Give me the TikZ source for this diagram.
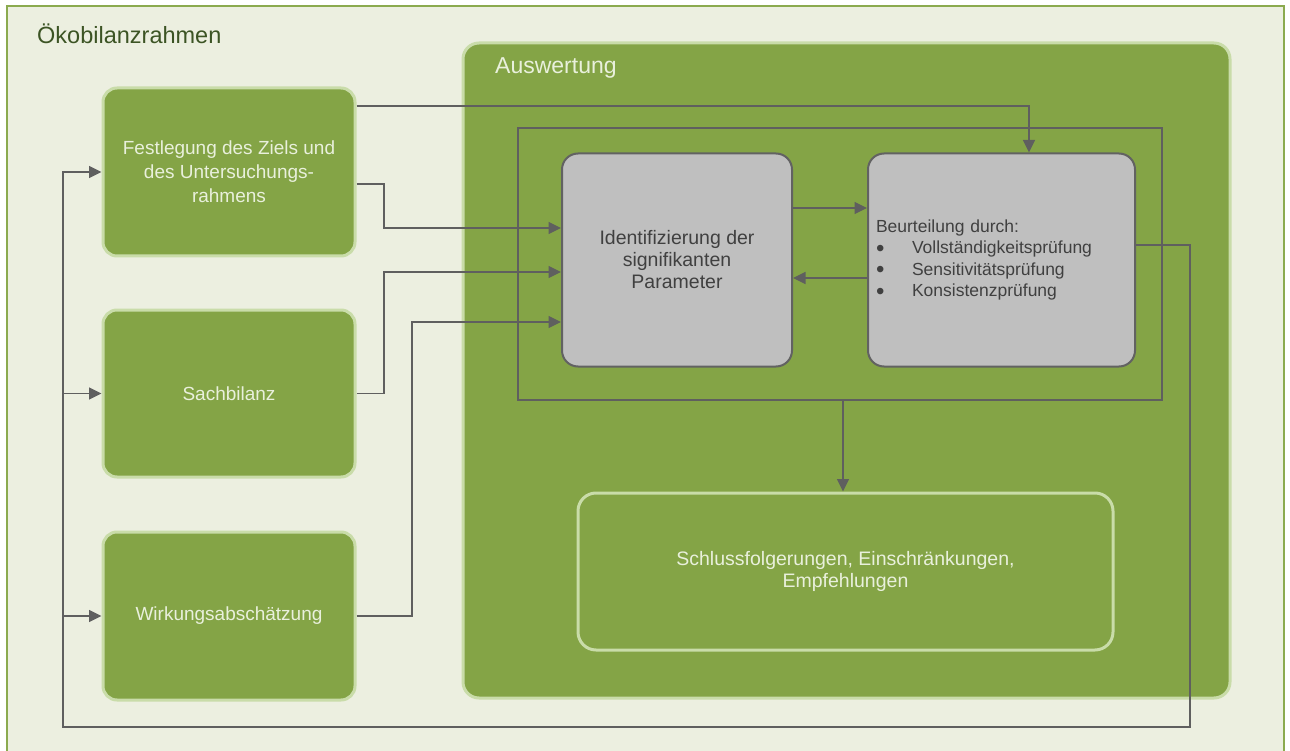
\documentclass[tikz,border=0pt]{standalone}
\usepackage{fontspec}
\setmainfont{Liberation Sans}
\usetikzlibrary{arrows.meta,calc}
\definecolor{bgc}{HTML}{ECEFE0}
\definecolor{framec}{HTML}{8BAA4F}
\definecolor{greenc}{HTML}{84A446}
\definecolor{lightg}{HTML}{C9DCA9}
\definecolor{greyc}{HTML}{BFBFBF}
\definecolor{greyb}{HTML}{626262}
\definecolor{linec}{HTML}{5F5F5F}
\definecolor{txtlight}{HTML}{E9F0DC}
\definecolor{txtdark}{HTML}{3C5424}
\definecolor{txtgrey}{HTML}{404040}
\newcommand{\bigbul}{\makebox[36pt][l]{\raisebox{-2.5pt}{\fontsize{24}{0}\selectfont •}}}
\tikzset{
  greenbox/.style={draw=lightg, line width=3pt, fill=greenc, rounded corners=14pt,
    minimum width=252pt, minimum height=168pt, text=txtlight, align=center,
    font=\fontsize{19}{24}\selectfont},
  auswbox/.style={draw=lightg, line width=3pt, fill=greenc, rounded corners=16pt,
    minimum width=767pt, minimum height=655pt},
  greybox/.style={draw=greyb, line width=2pt, fill=greyc, rounded corners=16pt,
    minimum height=213pt, text=txtgrey},
  schlussbox/.style={draw=lightg, line width=3pt, fill=greenc, rounded corners=18pt,
    minimum width=535pt, minimum height=157pt, text=txtlight, align=center,
    font=\fontsize{19.5}{22.5}\selectfont},
  conn/.style={draw=linec, line width=1.3pt},
  arr/.style={conn, -{Triangle[length=12.5pt,width=12pt]}},
}
\begin{document}
\begin{tikzpicture}[x=1pt,y=-1pt]
\useasboundingbox (0,0) rectangle (1290,751);
\clip (0,0) rectangle (1290,751);
\fill[white] (0,0) rectangle (1290,751);
\draw[draw=framec, fill=bgc, line width=2.5pt] (7,6) rectangle (1284,765);
\node[anchor=base west, inner sep=0pt, text=txtdark, font=\fontsize{23.5}{26}\selectfont] (title) at (37,44) {Ökobilanzrahmen};

% left boxes
\node[greenbox] (b1) at (229,172) {Festlegung des Ziels und\\des Untersuchungs-\\rahmens};
\node[greenbox, minimum height=167pt] (b2) at (229,393.5) {Sachbilanz};
\node[greenbox] (b3) at (229,616) {Wirkungsabschätzung};

% Auswertung
\node[auswbox] (ausw) at (846.5,370.5) {};
\node[anchor=base west, inner sep=0pt, text=txtlight, font=\fontsize{23}{26}\selectfont] (auswlabel) at (495,74) {Auswertung};
\node[draw=linec, line width=1.3pt, minimum width=644pt, minimum height=272pt] (inner) at (840,264) {};

\node[greybox, minimum width=230pt, align=center, font=\fontsize{19.5}{22}\selectfont] (g1) at (677,260) {Identifizierung der\\signifikanten\\Parameter};
\node[greybox, text width=251pt, inner xsep=8pt, align=left, font=\fontsize{17.5}{21.5}\selectfont] (g2) at (1001.5,260)
  {Beurteilung durch:\\
   \bigbul Vollständigkeitsprüfung\\
   \bigbul Sensitivitätsprüfung\\
   \bigbul Konsistenzprüfung};

\node[schlussbox] (s) at (845.5,571.5) {Schlussfolgerungen, Einschränkungen,\\Empfehlungen};

% connectors
\draw[arr] (b1.east |- 0,106) -| (g2.north -| 1029,0);
\draw[arr] (b1.east |- 0,184) -| (384,228) -- (g1.west |- 0,228);
\draw[arr] (b2.east) -| (384,272) -- (g1.west |- 0,272);
\draw[arr] (b3.east) -| (412,322) -- (g1.west |- 0,322);
\draw[arr] (g1.east |- 0,208) -- (g2.west |- 0,208);
\draw[arr] (g2.west |- 0,278) -- (g1.east |- 0,278);
\draw[arr] (inner.south -| 843,0) -- (s.north -| 843,0);
\draw[arr] (g2.east |- 0,245) -| (1190,727) -| (63,172) -- (b1.west);
\draw[arr] (63,0 |- b2.west) -- (b2.west);
\draw[arr] (63,0 |- b3.west) -- (b3.west);
\end{tikzpicture}
\end{document}
